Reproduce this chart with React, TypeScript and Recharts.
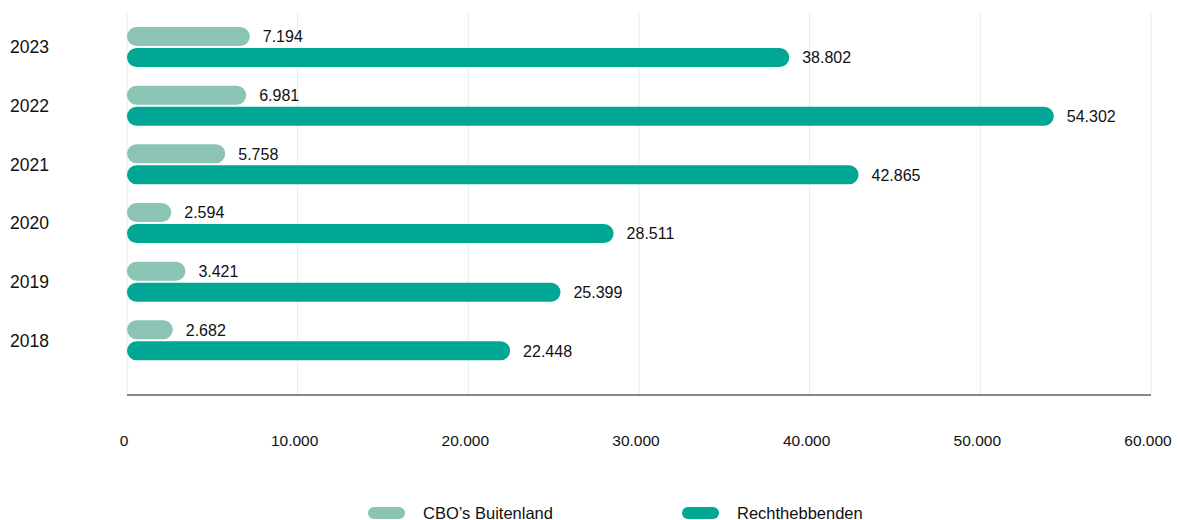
import React from "react";
import { BarChart, Bar, XAxis, YAxis, CartesianGrid, Legend, LabelList } from "recharts";

const years = ["2023", "2022", "2021", "2020", "2019", "2018"];
const cboBuitenland = [7194, 6981, 5758, 2594, 3421, 2682];
const rechthebbenden = [38802, 54302, 42865, 28511, 25399, 22448];
const xTicks = [0, 10000, 20000, 30000, 40000, 50000, 60000];

const LIGHT = "#8bc3b4";
const DARK = "#00a795";
const FONT = "'Liberation Sans', Arial, Helvetica, sans-serif";

const data = years.map((year, i) => ({
  year,
  cbo: cboBuitenland[i],
  recht: rechthebbenden[i],
}));

// dutch thousands separator
const fmt = (v: number) => String(v).replace(/\B(?=(\d{3})+(?!\d))/g, ".");

const YearTick = (props: any) => {
  const { y, payload } = props;
  return (
    <text x={10} y={y} dy={6} textAnchor="start" fontSize={17.5} fill="#111" fontFamily={FONT}>
      {payload.value}
    </text>
  );
};

const LegendContent = () => {
  const items = [
    { label: "CBO’s Buitenland", color: LIGHT, x: 368 },
    { label: "Rechthebbenden", color: DARK, x: 682 },
  ];
  return (
    <div style={{ position: "relative", width: 1178, height: 20 }}>
      {items.map((it) => (
        <div
          key={it.label}
          style={{ position: "absolute", left: it.x, top: 0, display: "flex", alignItems: "center", height: 20 }}
        >
          <span style={{ width: 37, height: 12, borderRadius: 6, background: it.color, display: "inline-block" }} />
          <span style={{ marginLeft: 18, fontSize: 16.5, color: "#111", fontFamily: FONT }}>{it.label}</span>
        </div>
      ))}
    </div>
  );
};

export default function App() {
  return (
    <div style={{ position: "absolute", left: 0, top: 0, width: 1178, height: 520, background: "#fff" }}>
      <BarChart
        width={1178}
        height={520}
        data={data}
        layout="vertical"
        margin={{ top: 13, right: 27, left: 0, bottom: 65 }}
        barSize={19}
        barGap={2}
      >
        <CartesianGrid horizontal={false} stroke="#dff0f3" />
        <XAxis
          type="number"
          domain={[0, 60000]}
          ticks={xTicks}
          tickFormatter={fmt}
          axisLine={{ stroke: "#111" }}
          tickLine={false}
          tickMargin={34}
          height={60}
          tick={{ fill: "#111", fontSize: 15.5, fontFamily: FONT, dx: -3 }}
        />
        <YAxis
          type="category"
          dataKey="year"
          width={127}
          axisLine={false}
          tickLine={false}
          padding={{ top: 5, bottom: 25 }}
          tick={<YearTick />}
        />
        <Legend
          layout="horizontal"
          verticalAlign="middle"
          align="center"
          wrapperStyle={{ top: 503, left: 0, width: 1178 }}
          content={<LegendContent />}
        />
        <Bar dataKey="cbo" name="CBO’s Buitenland" fill={LIGHT} radius={10} isAnimationActive={false}>
          <LabelList dataKey="cbo" position="right" offset={13} formatter={fmt} fill="#111" fontSize={16} fontFamily={FONT} />
        </Bar>
        <Bar dataKey="recht" name="Rechthebbenden" fill={DARK} radius={10} isAnimationActive={false}>
          <LabelList dataKey="recht" position="right" offset={13} formatter={fmt} fill="#111" fontSize={16} fontFamily={FONT} />
        </Bar>
      </BarChart>
    </div>
  );
}
